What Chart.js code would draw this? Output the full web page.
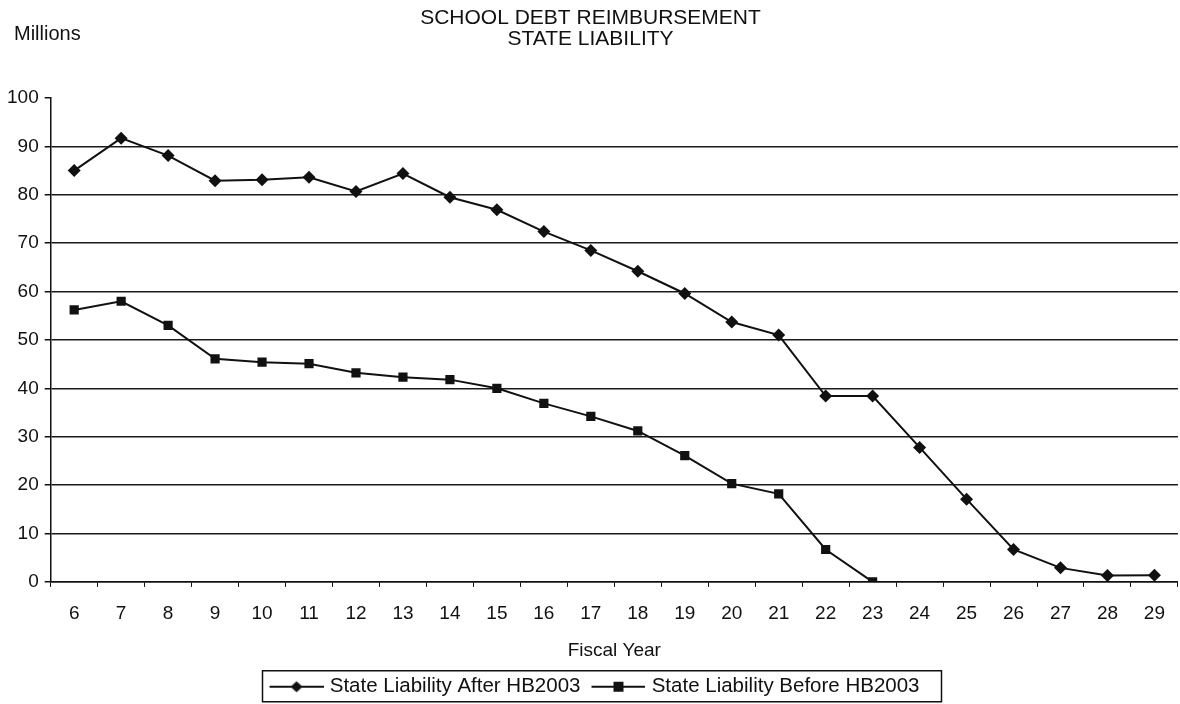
<!DOCTYPE html>
<html>
<head>
<meta charset="utf-8">
<script src="https://cdn.jsdelivr.net/npm/chart.js@4.4.1/dist/chart.umd.min.js"></script>
<style>
  html, body { margin: 0; background: #fff; }
  #wrap { width: 1180px; height: 704px; }
</style>
</head>
<body>
<div id="wrap"><canvas id="myChart"></canvas></div>
<script>
// Chart data
const fiscalYears = ['6', '7', '8', '9', '10', '11', '12', '13', '14', '15', '16', '17',
  '18', '19', '20', '21', '22', '23', '24', '25', '26', '27', '28', '29'];
const afterHB2003 = [85, 91.7, 88.1, 82.9, 83.1, 83.6, 80.7, 84.4, 79.5, 76.9, 72.4, 68.5,
  64.2, 59.6, 53.7, 51, 38.4, 38.4, 27.8, 17.1, 6.7, 2.9, 1.3, 1.4];
const beforeHB2003 = [56.2, 58, 53, 46.1, 45.4, 45.1, 43.2, 42.3, 41.8, 40, 36.9, 34.2,
  31.2, 26.1, 20.3, 18.2, 6.7, 0, null, null, null, null, null, null];
const seriesNames = ['State Liability After HB2003', 'State Liability Before HB2003'];

const FONT = "'Liberation Sans', Arial, sans-serif";
const INK = '#111';

// legend icons: line with the marker on it. The canvas is wider than the
// legend box so the line sits closer to the text, like the original
const ICON_W = 66, ICON_M = 12;
function legendIcon(shape) {
  const c = document.createElement('canvas');
  c.width = ICON_W; c.height = 16;
  const g = c.getContext('2d');
  g.strokeStyle = INK; g.fillStyle = INK; g.lineWidth = 2;
  g.beginPath(); g.moveTo(ICON_M, 8); g.lineTo(ICON_W, 8); g.stroke();
  const cx = ICON_M + (ICON_W - ICON_M) / 2;
  g.beginPath();
  if (shape === 'diamond') {
    g.moveTo(cx, 2.5); g.lineTo(cx + 6, 8); g.lineTo(cx, 13.5); g.lineTo(cx - 6, 8);
  } else {
    g.rect(cx - 5, 3, 10, 10);
  }
  g.closePath(); g.fill();
  return c;
}
const icons = [legendIcon('diamond'), legendIcon('square')];

// "Millions" label and legend frame
const extras = {
  id: 'extras',
  afterDraw(chart) {
    const ctx = chart.ctx;
    ctx.save();
    ctx.font = '20px ' + FONT;
    ctx.fillStyle = INK;
    ctx.textBaseline = 'middle';
    ctx.textAlign = 'left';
    ctx.fillText('Millions', 14, 34);
    const boxes = chart.legend.legendHitBoxes;
    if (boxes && boxes.length) {
      const l = Math.min(...boxes.map(b => b.left)) + 1;
      const r = Math.max(...boxes.map(b => b.left + b.width)) + 22;
      const mid = boxes[0].top + boxes[0].height / 2;
      ctx.strokeStyle = INK;
      ctx.lineWidth = 1.5;
      ctx.strokeRect(l, mid - 16, r - l, 31);
    }
    ctx.restore();
  }
};

const data = {
  labels: fiscalYears,
  datasets: [{
    label: seriesNames[0],
    data: afterHB2003,
    borderColor: INK,
    backgroundColor: INK,
    borderWidth: 2,
    pointStyle: 'rectRot',
    pointRadius: 6.5,
    pointBorderWidth: 0,
    tension: 0
  }, {
    label: seriesNames[1],
    data: beforeHB2003,
    borderColor: INK,
    backgroundColor: INK,
    borderWidth: 2,
    pointStyle: 'rect',
    pointRadius: 6.5,
    pointBorderWidth: 0,
    tension: 0
  }]
};

const options = {
  responsive: true,
  maintainAspectRatio: false,
  animation: false,
  layout: { autoPadding: false, padding: { left: 1, right: 0, top: 0, bottom: -3 } },
  plugins: {
    title: {
      display: true,
      text: ['SCHOOL DEBT REIMBURSEMENT', 'STATE LIABILITY'],
      color: INK,
      font: { family: FONT, size: 21, weight: 'normal', lineHeight: 1.0 },
      padding: { top: 8, bottom: 48 }
    },
    legend: {
      position: 'bottom',
      labels: {
        color: INK,
        font: { family: FONT, size: 20.5 },
        usePointStyle: true,
        pointStyleWidth: ICON_W - 8,
        padding: 3,
        generateLabels(chart) {
          return chart.data.datasets.map((ds, i) => ({
            text: ds.label,
            pointStyle: icons[i],
            fontColor: INK,
            datasetIndex: i,
            hidden: false,
            lineWidth: 0
          }));
        }
      }
    },
    tooltip: { enabled: false }
  },
  scales: {
    x: {
      offset: true,
      grid: {
        offset: true,
        drawOnChartArea: false,
        drawTicks: true,
        tickLength: 5,
        color: INK,
        lineWidth: 1
      },
      border: { display: true, color: INK, width: 1.5 },
      ticks: { color: INK, font: { family: FONT, size: 19 }, padding: 15, maxRotation: 0, autoSkip: false },
      title: { display: true, text: 'Fiscal Year', color: INK, font: { family: FONT, size: 19 }, padding: { top: 0, bottom: 11 } }
    },
    y: {
      min: 0,
      max: 100,
      ticks: { stepSize: 10, color: INK, font: { family: FONT, size: 19 }, padding: 6 },
      grid: {
        color: c => (c.tick && c.tick.value === 100 ? 'rgba(0,0,0,0)' : '#1a1a1a'),
        tickColor: INK,
        lineWidth: 1.5,
        tickLength: 6
      },
      border: { display: true, color: INK, width: 1.5 }
    }
  }
};

const ctx = document.getElementById('myChart').getContext('2d');
const myChart = new Chart(ctx, {
  type: 'line',
  data: data,
  options: options,
  plugins: [extras]
});
</script>
</body>
</html>
